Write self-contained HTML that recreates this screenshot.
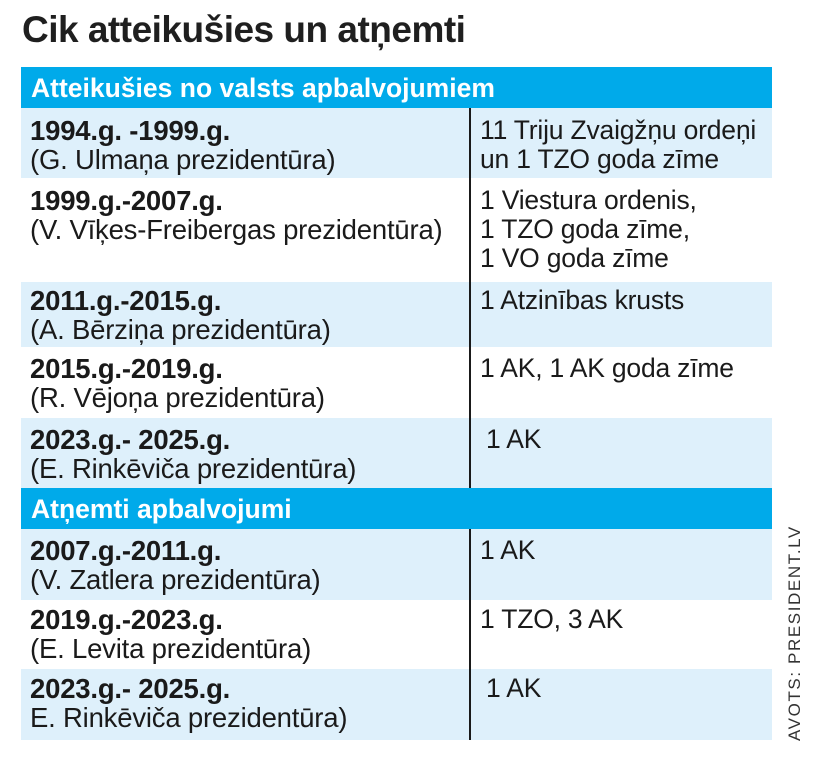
<!DOCTYPE html>
<html><head><meta charset="utf-8"><style>
body{margin:0;width:820px;height:758px;background:#fff;font-family:"Liberation Sans",sans-serif;color:#1a1a1a;position:relative;overflow:hidden}
.t{position:absolute;left:22px;top:9px;font-size:37px;font-weight:bold;letter-spacing:-0.5px;color:#1f1f1f}
.r{position:absolute;left:21px;width:751px}
.b{background:#def0fb}
.h{background:#00aaea;color:#fff;font-weight:bold;font-size:26.5px;padding-left:10px;box-sizing:border-box;line-height:42px;z-index:2}
.c{position:absolute;font-size:26.5px;line-height:29px;letter-spacing:-0.2px;white-space:nowrap}
.l{left:9px;top:8px;font-size:27.5px}
.rt{left:459px;top:8px}
.vl{position:absolute;left:469px;top:108px;width:2px;height:632px;background:#1a1a1a;z-index:1}
.src{position:absolute;left:785px;top:741px;transform-origin:0 0;transform:rotate(-90deg);font-size:17px;letter-spacing:1.6px;color:#333;white-space:nowrap}
</style></head><body>
<div class="t">Cik atteikušies un atņemti</div>
<div class="r h" style="top:67px;height:41px">Atteikušies no valsts apbalvojumiem</div>
<div class="r b" style="top:108px;height:70px"><div class="c l"><b>1994.g. -1999.g.</b><br>(G. Ulmaņa prezidentūra)</div><div class="c rt">11 Triju Zvaigžņu ordeņi<br>un 1 TZO goda zīme</div></div>
<div class="r" style="top:178px;height:104px"><div class="c l"><b>1999.g.-2007.g.</b><br>(V. Vīķes-Freibergas prezidentūra)</div><div class="c rt">1 Viestura ordenis,<br>1 TZO goda zīme,<br>1 VO goda zīme</div></div>
<div class="r b" style="top:282px;height:65px"><div class="c l" style="top:4px"><b>2011.g.-2015.g.</b><br>(A. Bērziņa prezidentūra)</div><div class="c rt" style="top:4px">1 Atzinības krusts</div></div>
<div class="r" style="top:347px;height:71px"><div class="c l" style="top:7px"><b>2015.g.-2019.g.</b><br>(R. Vējoņa prezidentūra)</div><div class="c rt" style="top:7px">1 AK, 1 AK goda zīme</div></div>
<div class="r b" style="top:418px;height:70px"><div class="c l" style="top:7px"><b>2023.g.- 2025.g.</b><br>(E. Rinkēviča prezidentūra)</div><div class="c rt" style="top:7px;left:465px">1 AK</div></div>
<div class="r h" style="top:488px;height:41px">Atņemti apbalvojumi</div>
<div class="r b" style="top:529px;height:71px"><div class="c l" style="top:7px"><b>2007.g.-2011.g.</b><br>(V. Zatlera prezidentūra)</div><div class="c rt" style="top:7px">1 AK</div></div>
<div class="r" style="top:600px;height:69px"><div class="c l" style="top:5px"><b>2019.g.-2023.g.</b><br>(E. Levita prezidentūra)</div><div class="c rt" style="top:5px">1 TZO, 3 AK</div></div>
<div class="r b" style="top:669px;height:71px"><div class="c l" style="top:5px"><b>2023.g.- 2025.g.</b><br>E. Rinkēviča prezidentūra)</div><div class="c rt" style="top:5px;left:465px">1 AK</div></div>
<div class="vl"></div>
<div class="src">AVOTS: PRESIDENT.LV</div>
</body></html>
